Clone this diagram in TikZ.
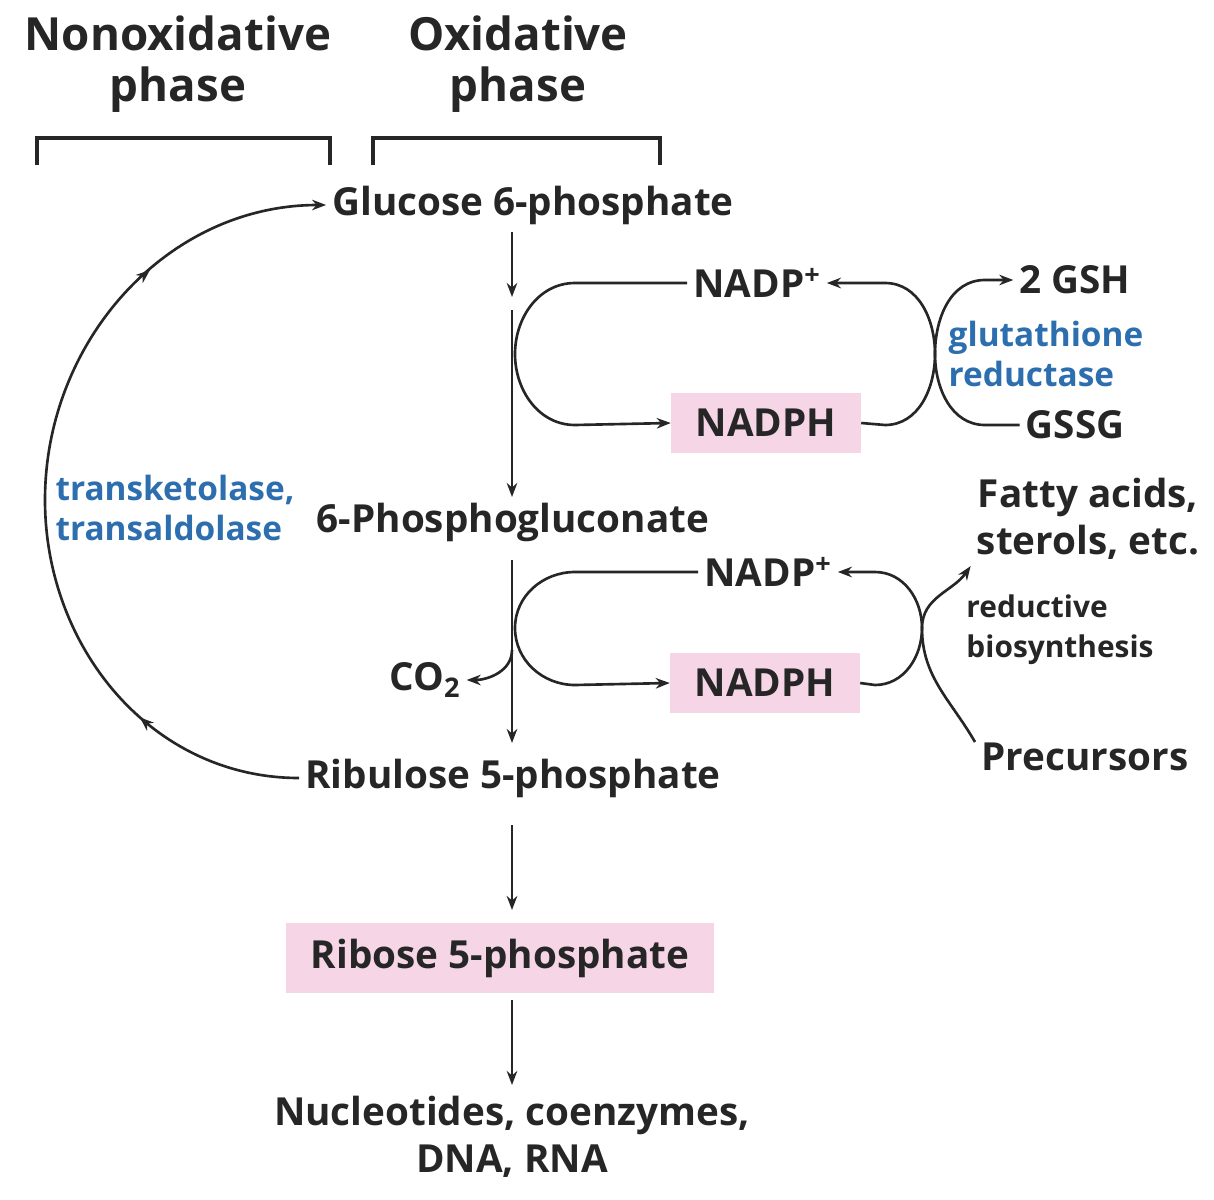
\documentclass[tikz,border=0pt]{standalone}
\usepackage{fontspec}
\setmainfont{Open Sans}
\usetikzlibrary{arrows.meta,decorations.markings}
\definecolor{pinkbox}{RGB}{246,214,230}
\definecolor{enzblue}{RGB}{45,110,175}
\tikzset{
    lbl/.style={font=\fontsize{22}{27}\selectfont\bfseries, text=black!85, align=center},
    big/.style={font=\fontsize{26}{29}\selectfont\bfseries, text=black!85, align=center},
    enz/.style={font=\fontsize{19}{23}\selectfont\bfseries, text=enzblue, align=left},
    sm/.style={font=\fontsize{17}{23}\selectfont\bfseries, text=black!85, align=left},
    hl/.style={fill=pinkbox, inner xsep=14pt, inner ysep=9pt},
    ln/.style={line width=1.5pt, black!85},
    arr/.style={ln, -{Stealth[length=8pt]}},
    midarr/.style={arr, postaction={decorate}, decoration={markings,
        mark=at position 0.2 with {\arrow{Stealth[length=8pt]}},
        mark=at position 0.78 with {\arrow{Stealth[length=8pt]}}}},
}
\begin{document}
\begin{tikzpicture}[x=0.02cm, y=-0.02cm]
    \useasboundingbox (0,0) rectangle (1214,1200);
    % phase headings
    \node[big] (nonox) at (178,64) {Nonoxidative\\phase};
    \node[big] (ox) at (518,64) {Oxidative\\phase};
    \draw[ln, line width=2pt] (37,165) -- (37,138) -- (330,138) -- (330,165);
    \draw[ln, line width=2pt] (373,165) -- (373,138) -- (660,138) -- (660,165);
    % main metabolites
    \node[lbl] (g6p) at (533,205) {Glucose 6-phosphate};
    \node[lbl] (pg) at (513,522) {6-Phosphogluconate};
    \node[lbl] (ru5p) at (513,778) {Ribulose 5-phosphate};
    \node[lbl, hl] (r5p) at (500,958) {Ribose 5-phosphate};
    \node[lbl] (nuc) at (512,1137) {Nucleotides, coenzymes,\\DNA, RNA};
    % cofactors
    \node[lbl] (nadpA) at (757,283) {NADP\textsuperscript{+}};
    \node[lbl, hl] (nadphA) at (766,423) {NADPH};
    \node[lbl] (nadpB) at (768,572) {NADP\textsuperscript{+}};
    \node[lbl, hl] (nadphB) at (765,683) {NADPH};
    \node[lbl] (co2) at (425,680) {CO\textsubscript{2}};
    \node[lbl] (gsh) at (1075,280) {2 GSH};
    \node[lbl] (gssg) at (1075,425) {GSSG};
    \node[lbl] (fatty) at (1088,519) {Fatty acids,\\sterols, etc.};
    \node[lbl] (prec) at (1085,757) {Precursors};
    % enzymes and notes
    \node[enz] (gr) at (1046,354) {glutathione\\reductase};
    \node[enz] (tk) at (175,508) {transketolase,\\transaldolase};
    \node[sm] (rb) at (1060,630) {reductive\\biosynthesis};
    % helper points
    \coordinate (a1) at (512,232);
    \coordinate (a2) at (512,297);
    \coordinate (b1) at (512,310);
    \coordinate (b2) at (512,497);
    \coordinate (c1) at (512,560);
    \coordinate (c2) at (512,743);
    \coordinate (c3) at (512,650);
    \coordinate (d1) at (512,825);
    \coordinate (d2) at (512,910);
    \coordinate (e1) at (512,1000);
    \coordinate (e2) at (512,1085);
    \coordinate (p1) at (975,742);
    % main path
    \draw[arr] (a1) -- (a2);
    \draw[arr] (b1) -- (b2);
    \draw[arr] (c1) -- (c2);
    \draw[arr] (d1) -- (d2);
    \draw[arr] (e1) -- (e2);
    \draw[arr] (c3) to[out=-90,in=0] (co2.east);
    % upper loop
    \draw[arr] (nadpA.west) -- (575,283) to[out=180,in=90] (515,354)
        to[out=-90,in=180] (575,425) -- (nadphA.west);
    \draw[arr] (nadphA.east) -- (885,425) to[out=0,in=-90] (935,354)
        to[out=90,in=0] (885,283) -- (nadpA.east);
    \draw[arr] (gssg.west) -- (985,425) to[out=180,in=-90] (935,354)
        to[out=90,in=180] (985,280) -- (gsh.west);
    % lower loop
    \draw[arr] (nadpB.west) -- (575,572) to[out=180,in=90] (515,628)
        to[out=-90,in=180] (575,685) -- (nadphB.west);
    \draw[arr] (nadphB.east) -- (875,685) to[out=0,in=-90] (922,628)
        to[out=90,in=0] (875,572) -- (nadpB.east);
    \draw[arr] (p1) to[out=120,in=-90] (922,628) to[out=90,in=235] (fatty.south west);
    % nonoxidative cycle
    \draw[midarr] (ru5p.west) to[out=180,in=-90] (45,500) to[out=90,in=180] (g6p.west);
\end{tikzpicture}
\end{document}
